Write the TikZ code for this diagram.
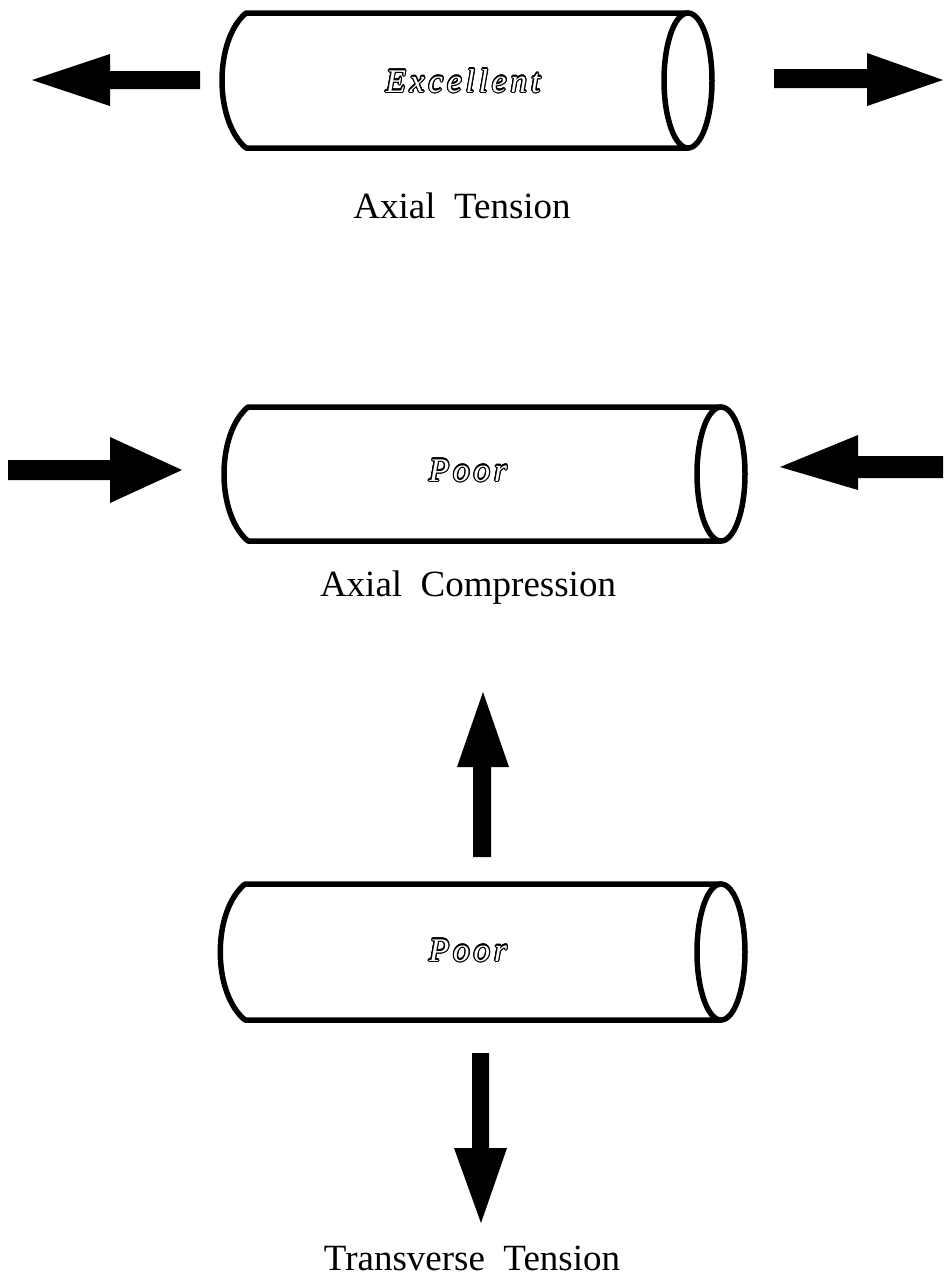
\documentclass[tikz,border=0pt]{standalone}
\usepackage{fontspec}
\setmainfont{Liberation Serif}
\newfontfamily\engraved{Liberation Serif}[LetterSpace=12]
\usepackage[copies]{contour}
\contourlength{1.2pt}

% A tube seen from the side: curved left rim, straight top and bottom, open right end.
% #1 rim corner x, #2 rim control x, #3 end centre x, #4 top y, #5 bottom y
\newcommand\tubeshape[5]{%
  \draw[tubeline] (#3,#4) -- (#1,#4)
    .. controls (#2,{#4+0.2*(#5-#4)}) and (#2,{#5-0.2*(#5-#4)}) .. (#1,#5) -- (#3,#5);
  \draw[tubeline] (#3,{(#4+#5)/2}) ellipse [x radius=24, y radius={(#5-#4)/2}];
}

\tikzset{
  tubeline/.style={line width=5.5pt, line join=round, line cap=round},
  force/.style={fill=black, draw=none},
  caption/.style={font=\fontsize{37}{40}\selectfont, inner sep=0pt, anchor=base},
  rating/.style={font=\engraved\itshape\fontsize{33}{36}\selectfont, inner sep=0pt, anchor=base},
}
\newcommand\outlined[1]{{\color{white}\contour{black}{#1}}}

\begin{document}
\begin{tikzpicture}[x=1pt, y=-1pt]
  \useasboundingbox (0,0) rectangle (943,1288);

  % ---- axial tension ----
  \tubeshape{246}{214}{688}{13}{148}
  \node[rating] (excellent) at (463,92) {\outlined{Excellent}};
  \fill[force] (32,80) -- (110,54) -- (110,71) -- (200,71) -- (200,89) -- (110,89) -- (110,106) -- cycle;
  \fill[force] (943,80) -- (867,53) -- (867,69) -- (774,69) -- (774,88) -- (867,88) -- (867,106) -- cycle;
  \node[caption] (tension) at (462,218) {Axial\ \ Tension};

  % ---- axial compression ----
  \tubeshape{248}{216}{721}{407}{541}
  \node[rating] (poorA) at (468,481) {\outlined{Poor}};
  \fill[force] (182,470) -- (110,437) -- (110,460) -- (8,460) -- (8,480) -- (110,480) -- (110,503) -- cycle;
  \fill[force] (780,467) -- (858,435) -- (858,456) -- (943,456) -- (943,478) -- (858,478) -- (858,490) -- cycle;
  \node[caption] (compression) at (468,596) {Axial\ \ Compression};

  % ---- transverse tension ----
  \tubeshape{245}{212}{721}{884}{1020}
  \node[rating] (poorB) at (468,961) {\outlined{Poor}};
  \fill[force] (483,692) -- (509,767) -- (491,767) -- (491,857) -- (473,857) -- (473,767) -- (457,767) -- cycle;
  \fill[force] (481,1223) -- (507,1148) -- (489,1148) -- (489,1053) -- (472,1053) -- (472,1148) -- (454,1148) -- cycle;
  \node[caption] (transverse) at (472,1270) {Transverse\ \ Tension};
\end{tikzpicture}
\end{document}
